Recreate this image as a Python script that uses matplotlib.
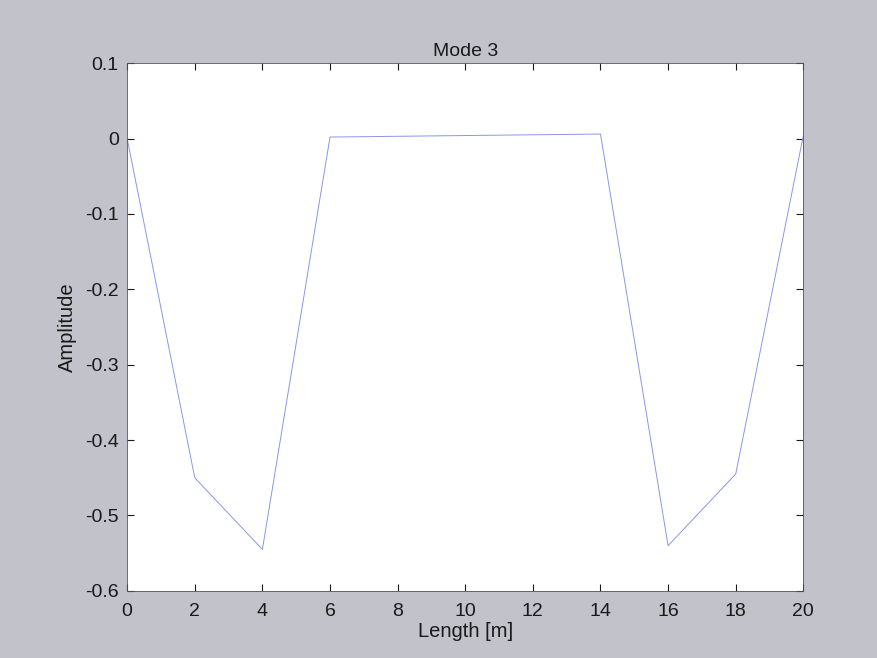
import numpy as np
import matplotlib.pyplot as plt

# mode shape
length_m = [0, 2, 4, 6, 8, 10, 12, 14, 16, 18, 20]
amplitude = [0.0, -0.45, -0.545, 0.002, 0.003, 0.004, 0.005, 0.006, -0.54, -0.445, 0.004]

x_ticks = np.arange(0, 21, 2)
y_ticks = [-0.6, -0.5, -0.4, -0.3, -0.2, -0.1, 0, 0.1]
y_labels = ["-0.6", "-0.5", "-0.4", "-0.3", "-0.2", "-0.1", "0", "0.1"]

plt.rcParams["font.family"] = ["Liberation Sans", "DejaVu Sans"]

fig = plt.figure(figsize=(8.77, 6.58), dpi=100, facecolor="#c1c2ca")
ax = fig.add_axes([0.145, 0.102, 0.771, 0.802])
ax.set_facecolor("white")

ax.plot(length_m, amplitude, color="#8898e4", linewidth=0.7)

ax.set_xlim(0, 20)
ax.set_ylim(-0.6, 0.1)
ax.set_xticks(x_ticks)
ax.set_yticks(y_ticks)
ax.set_yticklabels(y_labels)
ax.tick_params(direction="in", length=5, width=0.8, top=True, right=True,
               labelsize=14, colors="#1a1a1a")
ax.tick_params(axis="x", pad=9)
ax.tick_params(axis="y", pad=6)
for s in ax.spines.values():
    s.set_linewidth(0.6)
    s.set_color("#555555")

ax.set_title("Mode 3", fontsize=14, pad=5, color="#1a1a1a")
ax.set_xlabel("Length [m]", fontsize=14.5, labelpad=1, color="#1a1a1a")
ax.set_ylabel("Amplitude", fontsize=14.5, labelpad=6, color="#1a1a1a")

fig.savefig("out.png", dpi=100, facecolor=fig.get_facecolor())
